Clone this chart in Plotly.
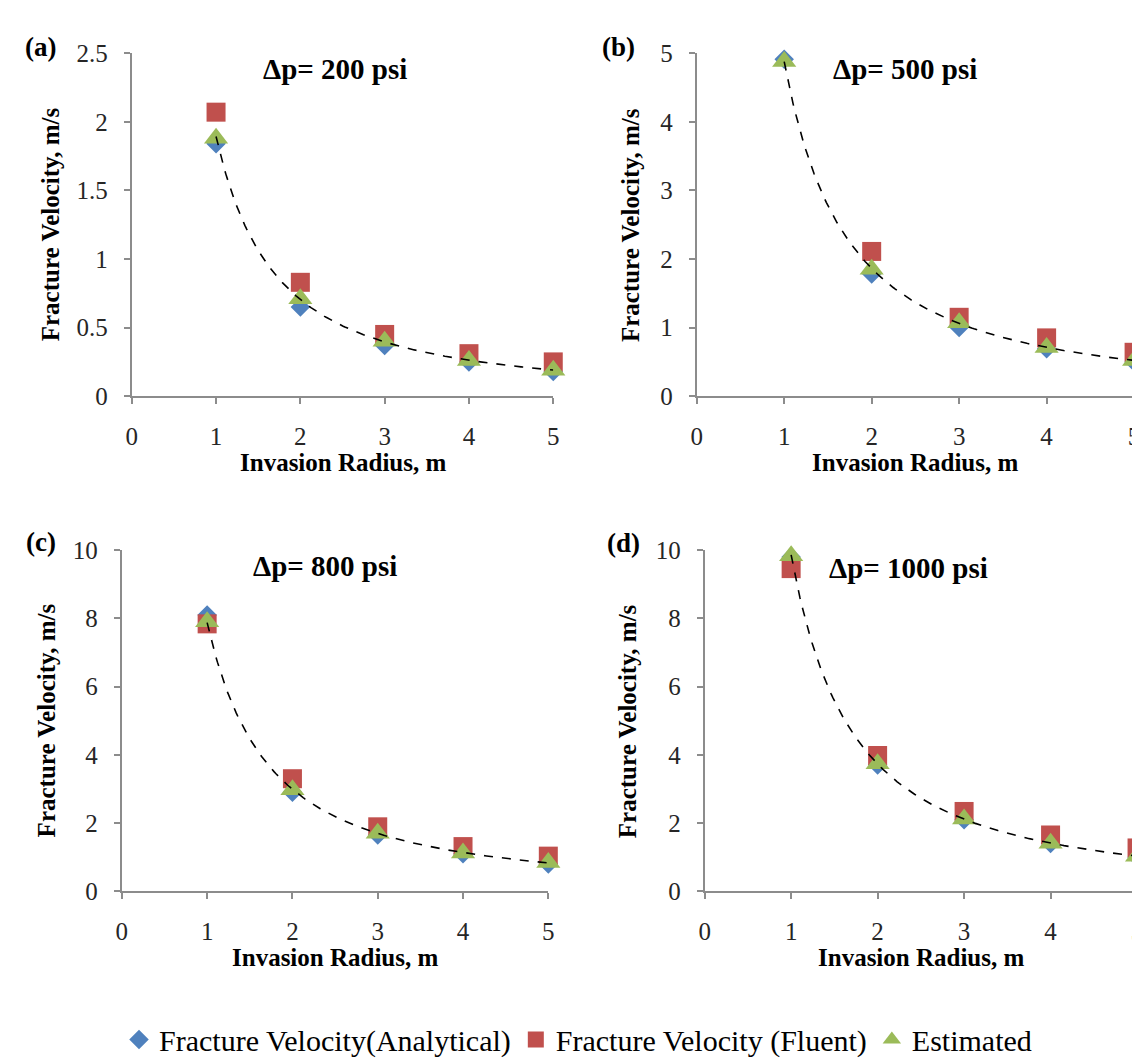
import numpy as np
import plotly.graph_objects as go

W, H = 1140, 1061

radius = [1, 2, 3, 4, 5]
panel_labels = ["(a)", "(b)", "(c)", "(d)"]
panel_titles = ["Δp= 200 psi", "Δp= 500 psi", "Δp= 800 psi", "Δp= 1000 psi"]

analytical_200 = [1.84, 0.65, 0.37, 0.25, 0.18]
fluent_200 = [2.07, 0.83, 0.45, 0.31, 0.25]
estimated_200 = [1.88, 0.71, 0.40, 0.26, 0.19]

analytical_500 = [4.91, 1.78, 1.00, 0.69, 0.50]
fluent_500 = [None, 2.11, 1.15, 0.85, 0.64]
estimated_500 = [4.88, 1.85, 1.07, 0.71, 0.52]

analytical_800 = [8.10, 2.90, 1.65, 1.10, 0.80]
fluent_800 = [7.84, 3.30, 1.89, 1.31, 1.03]
estimated_800 = [7.90, 2.98, 1.70, 1.12, 0.84]

analytical_1000 = [9.80, 3.70, 2.10, 1.40, 1.00]
fluent_1000 = [9.46, 3.98, 2.34, 1.65, 1.27]
estimated_1000 = [9.84, 3.74, 2.12, 1.41, 1.03]

y_max = [2.5, 5, 10, 10]
y_dtick = [0.5, 1, 2, 2]

series_names = ["Fracture Velocity(Analytical)", "Fracture Velocity (Fluent)", "Estimated"]
colors = ["#4F81BD", "#C0504D", "#9BBB59"]
symbols = ["diamond", "square", "triangle-up"]
sizes = [15, 19, 21]

panels = [
    (analytical_200, fluent_200, estimated_200),
    (analytical_500, fluent_500, estimated_500),
    (analytical_800, fluent_800, estimated_800),
    (analytical_1000, fluent_1000, estimated_1000),
]

# plot areas in pixels: (x0, x1, ytop, ybottom)
boxes = [(119, 545, 33, 385), (690, 1132, 33, 385), (109, 540, 543, 893), (698, 1135, 543, 893)]
label_pos = [(27, 27), (611, 27), (27, 535), (616, 536)]
title_pos = [(324, 49), (900, 49), (314, 559), (904, 561)]
ytitle_x = [37, 623, 33, 620]
xtitle_dy = 68

SERIF = "Liberation Serif"
AX = "#8C8C8C"

fig = go.Figure()
annotations = []

def px(x):
    return x / W

def py(y):
    return 1 - y / H

for i, (data, box) in enumerate(zip(panels, boxes)):
    n = i + 1
    xa = "x" if n == 1 else f"x{n}"
    ya = "y" if n == 1 else f"y{n}"
    for j in range(3):
        fig.add_trace(go.Scatter(
            x=radius, y=data[j], mode="markers", name=series_names[j],
            marker=dict(symbol=symbols[j], size=sizes[j], color=colors[j], line=dict(width=0)),
            xaxis=xa, yaxis=ya, cliponaxis=False, showlegend=(i == 0),
        ))
    # power trendline fitted to the estimated series
    est = np.array(data[2], dtype=float)
    xr = np.array(radius, dtype=float)
    b, a = np.polyfit(np.log(xr), np.log(est), 1)
    xs = np.linspace(1, 5, 200)
    fig.add_trace(go.Scatter(
        x=xs, y=np.exp(a) * xs ** b, mode="lines",
        line=dict(color="black", width=1.6, dash="dash"),
        xaxis=xa, yaxis=ya, showlegend=False, hoverinfo="skip", cliponaxis=False,
    ))
    x0, x1, yt, yb = box
    common = dict(showgrid=False, zeroline=False, showline=True, linecolor=AX, linewidth=2,
                  ticks="outside", ticklen=6, tickwidth=2, tickcolor=AX,
                  tickfont=dict(family=SERIF, size=25, color="#262626"),
                  ticklabelstandoff=11)
    fig.layout[f"xaxis{'' if n == 1 else n}"] = dict(
        domain=[px(x0), px(x1)], range=[0, 5], dtick=1, tick0=0,
        anchor=ya, **common)
    fig.layout[f"yaxis{'' if n == 1 else n}"] = dict(
        domain=[py(yb), py(yt)], range=[0, y_max[i]], dtick=y_dtick[i], tick0=0,
        anchor=xa, **common)

    annotations.append(dict(text=panel_labels[i], x=px(label_pos[i][0]), y=py(label_pos[i][1]),
                            xref="paper", yref="paper", showarrow=False, xanchor="center", yanchor="middle",
                            font=dict(family=SERIF, size=27, color="black", weight="bold")))
    annotations.append(dict(text=panel_titles[i], x=px(title_pos[i][0]), y=py(title_pos[i][1]),
                            xref="paper", yref="paper", showarrow=False, xanchor="center", yanchor="middle",
                            font=dict(family=SERIF, size=29, color="black", weight="bold")))
    annotations.append(dict(text="Fracture Velocity, m/s", x=px(ytitle_x[i]), y=py((yt + yb) / 2),
                            xref="paper", yref="paper", showarrow=False, textangle=-90,
                            xanchor="center", yanchor="middle",
                            font=dict(family=SERIF, size=25, color="black", weight="bold")))
    annotations.append(dict(text="Invasion Radius, m", x=px((x0 + x1) / 2), y=py(yb + xtitle_dy),
                            xref="paper", yref="paper", showarrow=False,
                            xanchor="center", yanchor="middle",
                            font=dict(family=SERIF, size=25, color="black", weight="bold")))

fig.update_layout(
    width=W, height=H, margin=dict(l=0, r=0, t=0, b=0),
    paper_bgcolor="white", plot_bgcolor="white",
    annotations=annotations,
    legend=dict(orientation="h", x=0.5, xanchor="center", y=py(1045), yanchor="middle",
                font=dict(family=SERIF, size=30, color="black"), itemwidth=30,
                tracegroupgap=0, bgcolor="rgba(0,0,0,0)"),
)

fig.write_html("out.html")
